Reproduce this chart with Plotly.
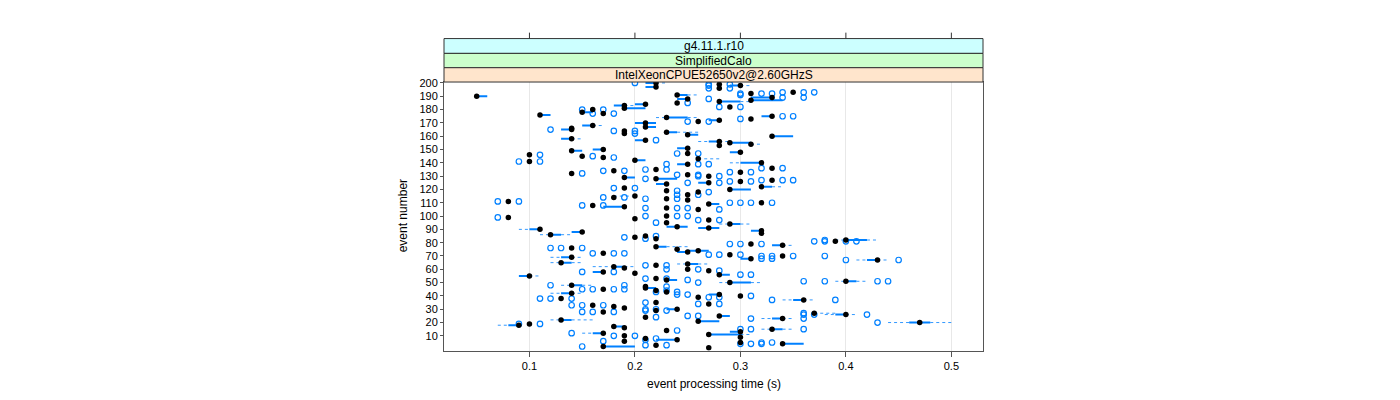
import plotly.graph_objects as go

# ---------------- data ----------------
events = [200, 199, 198, 197, 196, 193, 192, 191, 190, 189, 188, 187, 186, 185, 184, 183, 182, 181, 180,
          178, 177, 176, 175, 174, 173, 172, 171, 170, 168, 167, 166, 165, 164, 163, 162, 161, 160, 158,
          157, 156, 155, 154, 153, 151, 150, 149, 148, 147, 146, 145, 144, 143, 142, 141, 140, 139, 136,
          135, 134, 133, 132, 131, 130, 129, 128, 127, 126, 125, 124, 122, 121, 120, 119, 118, 116, 115,
          114, 113, 112, 111, 110, 109, 108, 107, 106, 105, 100, 99, 98, 97, 95, 94, 92, 91, 90, 89, 88,
          87, 86, 85, 84, 83, 82, 81, 79, 78, 77, 76, 75, 74, 73, 72, 71, 70, 69, 68, 67, 65, 64, 63, 62,
          61, 60, 59, 58, 57, 56, 55, 53, 52, 51, 50, 48, 47, 46, 45, 44, 43, 42, 41, 40, 39, 38, 37, 35,
          34, 33, 32, 31, 30, 29, 28, 27, 26, 25, 24, 23, 22, 21, 20, 19, 18, 17, 16, 15, 14, 13, 12, 11,
          10, 9, 8, 7, 6, 5, 4, 3, 2, 1]
medians = [0.22, 0.28, 0.30, 0.22, 0.28, 0.35, 0.31, 0.24, 0.05, 0.33, 0.25, 0.31, 0.28, 0.24, 0.21, 0.19, 0.29, 0.19, 0.16,
           0.15, 0.17, 0.11, 0.33, 0.23, 0.31, 0.28, 0.26, 0.21, 0.16, 0.21, 0.14, 0.14, 0.19, 0.23, 0.19, 0.25, 0.33, 0.14,
           0.21, 0.28, 0.29, 0.31, 0.28, 0.25, 0.17, 0.14, 0.30, 0.25, 0.10, 0.15, 0.17, 0.26, 0.20, 0.10, 0.32, 0.25, 0.33,
           0.22, 0.18, 0.30, 0.14, 0.25, 0.27, 0.19, 0.22, 0.33, 0.30, 0.27, 0.23, 0.32, 0.19, 0.29, 0.23, 0.26, 0.25, 0.20,
           0.18, 0.23, 0.25, 0.08, 0.32, 0.27, 0.16, 0.19, 0.23, 0.26, 0.23, 0.08, 0.20, 0.27, 0.23, 0.29, 0.24, 0.27, 0.11, 0.32, 0.15,
           0.32, 0.12, 0.21, 0.20, 0.22, 0.40, 0.39, 0.31, 0.34, 0.22, 0.14, 0.24, 0.26, 0.25, 0.17, 0.29, 0.34, 0.14, 0.31, 0.43, 0.13, 0.25, 0.22, 0.18,
           0.19, 0.25, 0.27, 0.17, 0.20, 0.28, 0.10, 0.22, 0.23, 0.40, 0.29, 0.14, 0.21, 0.21, 0.17, 0.22, 0.23, 0.14, 0.28, 0.30, 0.26, 0.13, 0.36, 0.22,
           0.27, 0.16, 0.18, 0.19, 0.24, 0.22, 0.17, 0.37, 0.40, 0.28, 0.21, 0.34, 0.13, 0.26, 0.47, 0.10, 0.09, 0.18, 0.19, 0.33, 0.23, 0.30, 0.17, 0.27,
           0.19, 0.30, 0.21, 0.24, 0.19, 0.30, 0.34, 0.22, 0.17, 0.27]
box_lo = [0.21, 0.28, 0.29, 0.21, 0.28, 0.35, 0.31, 0.24, 0.05, 0.31, 0.24, 0.31, 0.28, 0.24, 0.20, 0.18, 0.29, 0.19, 0.16,
          0.15, 0.17, 0.11, 0.32, 0.23, 0.31, 0.27, 0.26, 0.20, 0.15, 0.21, 0.14, 0.13, 0.19, 0.23, 0.19, 0.25, 0.33, 0.13,
          0.20, 0.27, 0.29, 0.31, 0.28, 0.24, 0.16, 0.14, 0.29, 0.25, 0.10, 0.15, 0.17, 0.26, 0.20, 0.10, 0.30, 0.24, 0.33,
          0.22, 0.18, 0.30, 0.14, 0.25, 0.27, 0.19, 0.22, 0.33, 0.30, 0.26, 0.22, 0.32, 0.19, 0.29, 0.23, 0.26, 0.25, 0.20,
          0.18, 0.23, 0.25, 0.08, 0.32, 0.27, 0.16, 0.17, 0.23, 0.26, 0.23, 0.08, 0.20, 0.27, 0.23, 0.29, 0.23, 0.26, 0.10, 0.31, 0.14,
          0.32, 0.12, 0.21, 0.20, 0.22, 0.40, 0.39, 0.31, 0.33, 0.22, 0.14, 0.24, 0.25, 0.24, 0.17, 0.29, 0.34, 0.13, 0.30, 0.42, 0.13, 0.25, 0.22, 0.18,
          0.19, 0.25, 0.27, 0.16, 0.20, 0.28, 0.09, 0.22, 0.23, 0.40, 0.29, 0.14, 0.21, 0.21, 0.17, 0.22, 0.23, 0.13, 0.27, 0.30, 0.26, 0.13, 0.35, 0.22,
          0.27, 0.16, 0.18, 0.19, 0.23, 0.22, 0.17, 0.37, 0.39, 0.28, 0.21, 0.33, 0.13, 0.26, 0.46, 0.10, 0.08, 0.18, 0.19, 0.33, 0.23, 0.29, 0.16, 0.27,
          0.19, 0.30, 0.21, 0.22, 0.19, 0.30, 0.34, 0.22, 0.17, 0.27]
box_hi = [0.22, 0.28, 0.30, 0.22, 0.28, 0.35, 0.31, 0.25, 0.06, 0.33, 0.25, 0.34, 0.30, 0.24, 0.21, 0.19, 0.29, 0.21, 0.16,
          0.16, 0.17, 0.12, 0.33, 0.25, 0.31, 0.28, 0.26, 0.22, 0.16, 0.22, 0.14, 0.14, 0.19, 0.24, 0.19, 0.26, 0.35, 0.14,
          0.21, 0.28, 0.31, 0.31, 0.28, 0.25, 0.17, 0.15, 0.30, 0.25, 0.10, 0.15, 0.17, 0.26, 0.21, 0.10, 0.32, 0.25, 0.33,
          0.22, 0.18, 0.30, 0.14, 0.25, 0.27, 0.20, 0.24, 0.33, 0.30, 0.27, 0.23, 0.33, 0.19, 0.31, 0.23, 0.26, 0.25, 0.20,
          0.18, 0.23, 0.25, 0.08, 0.32, 0.28, 0.16, 0.19, 0.23, 0.26, 0.23, 0.08, 0.20, 0.27, 0.23, 0.30, 0.25, 0.28, 0.11, 0.32, 0.15,
          0.32, 0.13, 0.21, 0.20, 0.22, 0.42, 0.39, 0.31, 0.34, 0.23, 0.14, 0.24, 0.27, 0.25, 0.17, 0.29, 0.34, 0.14, 0.31, 0.43, 0.14, 0.26, 0.22, 0.19,
          0.19, 0.25, 0.27, 0.17, 0.20, 0.29, 0.10, 0.22, 0.24, 0.41, 0.31, 0.15, 0.21, 0.22, 0.17, 0.22, 0.23, 0.14, 0.28, 0.30, 0.26, 0.13, 0.36, 0.22,
          0.27, 0.16, 0.18, 0.19, 0.24, 0.22, 0.17, 0.37, 0.40, 0.29, 0.21, 0.34, 0.14, 0.28, 0.48, 0.10, 0.09, 0.19, 0.19, 0.34, 0.23, 0.30, 0.17, 0.30,
          0.19, 0.30, 0.21, 0.24, 0.19, 0.30, 0.36, 0.22, 0.20, 0.27]
whisker_lo = [0.21, 0.28, 0.29, 0.21, 0.28, 0.35, 0.31, 0.24, 0.05, 0.31, 0.24, 0.31, 0.28, 0.24, 0.20, 0.18, 0.29, 0.19, 0.16,
              0.15, 0.17, 0.11, 0.32, 0.22, 0.31, 0.27, 0.26, 0.20, 0.15, 0.21, 0.14, 0.13, 0.19, 0.23, 0.19, 0.25, 0.33, 0.13,
              0.20, 0.26, 0.29, 0.31, 0.28, 0.24, 0.16, 0.14, 0.29, 0.25, 0.10, 0.15, 0.17, 0.26, 0.20, 0.10, 0.29, 0.24, 0.33,
              0.22, 0.18, 0.30, 0.14, 0.25, 0.27, 0.19, 0.22, 0.33, 0.30, 0.26, 0.22, 0.32, 0.19, 0.29, 0.23, 0.26, 0.25, 0.18,
              0.18, 0.23, 0.25, 0.08, 0.32, 0.27, 0.16, 0.17, 0.23, 0.26, 0.23, 0.08, 0.20, 0.27, 0.23, 0.28, 0.23, 0.26, 0.09, 0.31, 0.14,
              0.32, 0.11, 0.21, 0.20, 0.22, 0.39, 0.39, 0.31, 0.33, 0.22, 0.14, 0.24, 0.25, 0.24, 0.17, 0.29, 0.34, 0.12, 0.30, 0.41, 0.12, 0.24, 0.22, 0.16,
              0.19, 0.25, 0.27, 0.16, 0.20, 0.28, 0.09, 0.22, 0.23, 0.39, 0.28, 0.13, 0.21, 0.21, 0.17, 0.22, 0.23, 0.12, 0.27, 0.30, 0.26, 0.13, 0.34, 0.22,
              0.27, 0.16, 0.18, 0.19, 0.23, 0.22, 0.17, 0.37, 0.38, 0.28, 0.21, 0.32, 0.12, 0.26, 0.44, 0.10, 0.07, 0.18, 0.19, 0.32, 0.23, 0.29, 0.15, 0.27,
              0.19, 0.30, 0.21, 0.22, 0.19, 0.30, 0.34, 0.22, 0.17, 0.27]
whisker_hi = [0.23, 0.28, 0.31, 0.22, 0.28, 0.35, 0.31, 0.26, 0.06, 0.33, 0.25, 0.34, 0.31, 0.24, 0.21, 0.20, 0.29, 0.21, 0.16,
              0.16, 0.17, 0.12, 0.33, 0.26, 0.31, 0.28, 0.26, 0.22, 0.17, 0.22, 0.14, 0.14, 0.19, 0.26, 0.19, 0.26, 0.35, 0.15,
              0.21, 0.29, 0.31, 0.32, 0.28, 0.25, 0.17, 0.15, 0.30, 0.25, 0.10, 0.15, 0.17, 0.28, 0.21, 0.10, 0.32, 0.25, 0.33,
              0.22, 0.18, 0.30, 0.14, 0.25, 0.27, 0.20, 0.24, 0.33, 0.30, 0.27, 0.23, 0.34, 0.19, 0.31, 0.23, 0.26, 0.25, 0.20,
              0.18, 0.23, 0.25, 0.08, 0.32, 0.28, 0.16, 0.19, 0.23, 0.26, 0.23, 0.08, 0.20, 0.27, 0.23, 0.31, 0.25, 0.28, 0.11, 0.32, 0.15,
              0.32, 0.14, 0.21, 0.20, 0.22, 0.43, 0.39, 0.31, 0.35, 0.25, 0.14, 0.24, 0.27, 0.25, 0.17, 0.29, 0.34, 0.15, 0.31, 0.44, 0.15, 0.27, 0.22, 0.20,
              0.19, 0.25, 0.27, 0.17, 0.20, 0.29, 0.11, 0.22, 0.24, 0.42, 0.32, 0.16, 0.21, 0.22, 0.17, 0.22, 0.23, 0.15, 0.28, 0.30, 0.26, 0.13, 0.37, 0.22,
              0.27, 0.16, 0.18, 0.19, 0.24, 0.22, 0.17, 0.39, 0.41, 0.29, 0.21, 0.35, 0.16, 0.28, 0.50, 0.10, 0.09, 0.19, 0.19, 0.35, 0.23, 0.30, 0.17, 0.31,
              0.19, 0.30, 0.21, 0.24, 0.19, 0.30, 0.36, 0.22, 0.20, 0.27]

outlier_events = [200, 199, 199, 198, 196, 196, 193, 193, 193, 192, 192, 192, 191, 189, 189, 188, 185, 182, 182,
                  180, 180, 177, 177, 175, 175, 173, 171, 171, 165, 164, 164, 162, 157, 147, 147, 146, 145, 144,
                  141, 141, 139, 139, 139, 136, 136, 135, 135, 134, 134, 133, 133, 132, 131, 131, 130, 130, 128,
                  127, 127, 127, 126, 126, 125, 125, 121, 121, 119, 118, 116, 116, 114, 114, 113, 113, 111, 111,
                  110, 110, 110, 110, 108, 108, 106, 106, 106, 105, 100, 100, 100, 99, 97, 97, 95, 85, 84, 83, 82,
                  81, 81, 81, 81, 79, 79, 79, 76, 76, 76, 72, 72, 72, 71, 71, 71, 70, 70, 70, 70, 68, 68, 67, 67,
                  63, 63, 60, 60, 59, 58, 58, 56, 56, 53, 53, 52, 51, 51, 51, 51, 50, 48, 48, 47, 45, 45, 45, 45,
                  44, 43, 43, 41, 41, 40, 39, 39, 38, 38, 38, 37, 37, 35, 34, 34, 33, 33, 33, 30, 30, 29, 29, 28,
                  28, 28, 27, 26, 26, 26, 25, 25, 24, 23, 23, 20, 19, 19, 15, 15, 15, 14, 12, 10, 10, 8, 7, 6, 5,
                  5, 4, 4, 4, 3, 3, 2]
outlier_times = [0.20, 0.27, 0.29, 0.27, 0.27, 0.29, 0.34, 0.36, 0.37, 0.30, 0.32, 0.33, 0.30, 0.34, 0.36, 0.27, 0.25, 0.28, 0.30,
                 0.15, 0.17, 0.16, 0.18, 0.34, 0.35, 0.30, 0.25, 0.27, 0.12, 0.18, 0.20, 0.20, 0.22, 0.24, 0.26, 0.11, 0.16, 0.18,
                 0.09, 0.11, 0.23, 0.26, 0.27, 0.32, 0.34, 0.21, 0.23, 0.17, 0.19, 0.29, 0.31, 0.15, 0.24, 0.26, 0.26, 0.28, 0.21,
                 0.32, 0.34, 0.35, 0.29, 0.31, 0.25, 0.28, 0.18, 0.20, 0.24, 0.27, 0.24, 0.26, 0.17, 0.19, 0.21, 0.24, 0.07, 0.09,
                 0.29, 0.30, 0.31, 0.33, 0.15, 0.17, 0.21, 0.24, 0.25, 0.28, 0.21, 0.24, 0.25, 0.07, 0.26, 0.28, 0.22, 0.22, 0.19, 0.21, 0.38,
                 0.37, 0.38, 0.40, 0.41, 0.29, 0.30, 0.32, 0.12, 0.13, 0.15, 0.16, 0.18, 0.19, 0.27, 0.28, 0.30, 0.32, 0.33, 0.35, 0.38, 0.32, 0.33, 0.40, 0.45,
                 0.21, 0.23, 0.23, 0.26, 0.28, 0.15, 0.18, 0.30, 0.31, 0.21, 0.23, 0.25, 0.36, 0.38, 0.43, 0.44, 0.26, 0.12, 0.19, 0.23, 0.15, 0.16, 0.18, 0.19,
                 0.23, 0.22, 0.24, 0.24, 0.25, 0.31, 0.27, 0.28, 0.11, 0.12, 0.14, 0.33, 0.39, 0.21, 0.26, 0.28, 0.14, 0.15, 0.17, 0.21, 0.22, 0.21, 0.23, 0.15,
                 0.16, 0.18, 0.36, 0.36, 0.37, 0.42, 0.25, 0.26, 0.22, 0.31, 0.36, 0.43, 0.09, 0.11, 0.30, 0.31, 0.36, 0.24, 0.14, 0.18, 0.20, 0.22, 0.21, 0.17, 0.32,
                 0.33, 0.30, 0.31, 0.32, 0.21, 0.23, 0.15]

x_ticks = [0.1, 0.2, 0.3, 0.4, 0.5]
x_tick_labels = ["0.1", "0.2", "0.3", "0.4", "0.5"]
y_ticks = list(range(10, 201, 10))
strip_labels = ["g4.11.1.r10", "SimplifiedCalo", "IntelXeonCPUE52650v2@2.60GHzS"]
strip_colors = ["#CCFFFF", "#CCFFCC", "#FFE5CC"]

# ---------------- build segments ----------------
BLUE = "#0080ff"
wx, wy, bx, by = [], [], [], []
for e, lo, q1, q3, hi in zip(events, whisker_lo, box_lo, box_hi, whisker_hi):
    if lo < q1:
        wx += [lo, q1, None]; wy += [e, e, None]
    if hi > q3:
        wx += [q3, hi, None]; wy += [e, e, None]
    if q3 > q1:
        bx += [q1, q3, None]; by += [e, e, None]

fig = go.Figure()
fig.add_trace(go.Scatter(x=wx, y=wy, mode="lines", line=dict(color=BLUE, width=1, dash="3px,3px"),
                         opacity=0.8, hoverinfo="skip", showlegend=False))
fig.add_trace(go.Scatter(x=bx, y=by, mode="lines", line=dict(color=BLUE, width=2),
                         hoverinfo="skip", showlegend=False))
fig.add_trace(go.Scatter(x=outlier_times, y=outlier_events, mode="markers",
                         marker=dict(symbol="circle-open", size=5.5, color=BLUE, line=dict(width=1.2, color=BLUE)),
                         showlegend=False))
fig.add_trace(go.Scatter(x=medians, y=events, mode="markers",
                         marker=dict(symbol="circle", size=5.5, color="black"),
                         showlegend=False))

W, H = 1400, 400
xl, xr = 444 / W, 983 / W
yb, yt = (H - 350) / H, (H - 78) / H
strip_edges = [34, 49, 63.5, 78]

shapes = []
annotations = []
for i, (lab, col) in enumerate(zip(strip_labels, strip_colors)):
    top = (H - strip_edges[i]) / H
    bot = (H - strip_edges[i + 1]) / H
    shapes.append(dict(type="rect", xref="paper", yref="paper", x0=xl, x1=xr, y0=bot, y1=top,
                       fillcolor=col, line=dict(color="#333333", width=1), layer="above"))
    annotations.append(dict(xref="paper", yref="paper", x=(xl + xr) / 2, y=(top + bot) / 2,
                            text=lab, showarrow=False, xanchor="center", yanchor="middle",
                            font=dict(family="Liberation Sans, Arial", size=12, color="black")))
for t in x_ticks:
    shapes.append(dict(type="line", xref="x", yref="paper", x0=t, x1=t,
                       y0=(H - 34) / H, y1=(H - 28) / H, line=dict(color="#333333", width=1)))

annotations.append(dict(xref="paper", yref="paper", x=(xl + xr) / 2, y=(H - 384) / H,
                        text="event processing time (s)", showarrow=False, xanchor="center", yanchor="middle",
                        font=dict(family="Liberation Sans, Arial", size=12, color="black")))
annotations.append(dict(xref="paper", yref="paper", x=403 / W, y=(yb + yt) / 2,
                        text="event number", showarrow=False, textangle=-90, xanchor="center", yanchor="middle",
                        font=dict(family="Liberation Sans, Arial", size=12, color="black")))

fig.update_layout(
    width=W, height=H, margin=dict(l=0, r=0, t=0, b=0),
    paper_bgcolor="white", plot_bgcolor="white",
    font=dict(family="Liberation Sans, Arial", size=11, color="black"),
    xaxis=dict(domain=[xl, xr], range=[0.019, 0.530], tickvals=x_ticks, ticktext=x_tick_labels,
               showgrid=True, gridcolor="#e8e8e8", gridwidth=1, zeroline=False,
               showline=True, mirror=True, linecolor="#555555", linewidth=1,
               ticks="outside", ticklen=5, tickcolor="#555555", tickfont=dict(size=11)),
    yaxis=dict(domain=[yb, yt], range=[-1.1, 200.7], tickvals=y_ticks,
               showgrid=False, zeroline=False,
               showline=True, mirror=True, linecolor="#555555", linewidth=1,
               ticks="outside", ticklen=3, tickcolor="#555555", tickfont=dict(size=11)),
    shapes=shapes, annotations=annotations,
)

fig.write_html("out.html", config={"displayModeBar": False},
               post_script="document.body.style.margin='0';")
